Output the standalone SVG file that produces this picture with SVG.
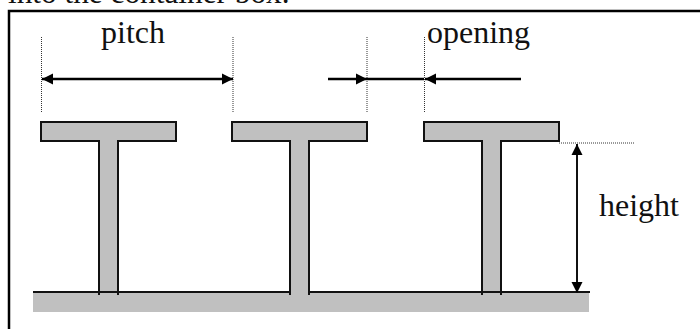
<svg xmlns="http://www.w3.org/2000/svg" width="700" height="329" viewBox="0 0 700 329">
<style>
text{font-family:"Liberation Serif","Times New Roman",serif;font-size:32px;fill:#111}
.t{fill:#c0c0c0;stroke:#111;stroke-width:2}
.d{stroke:#333;stroke-width:1;stroke-dasharray:1 1;fill:none}
.a{stroke:#000;stroke-width:2.5;fill:none}
.w{stroke:#111;stroke-width:2;fill:none}
</style>
<defs>
<marker id="h" markerUnits="userSpaceOnUse" markerWidth="12" markerHeight="12" refX="11" refY="6" orient="auto-start-reverse"><path d="M0 0.5L11 6L0 11.500Z" fill="#000"/></marker>
</defs>
<rect width="700" height="329" fill="#fff"/>
<text x="8" y="3" style="font-size:31.300px">into the container box.</text>
<path id="frame" d="M700 11H9V329" fill="none" stroke="#000" stroke-width="2.500"/>
<g id="base"><rect x="33" y="292" width="556" height="20" fill="#c0c0c0"/></g>
<g id="t1"><path class="t" d="M99 295V141H41V122H176V141H118V295"/></g>
<g id="t2"><path class="t" d="M290 295V141H232V122H367V141H309V295"/></g>
<g id="t3"><path class="t" d="M482 295V141H424V122H559V141H501V295"/></g>
<path class="w" d="M33 292H290M309 292H590"/>
<g id="connectors">
<path class="d" d="M41.500 37V113M233 37V113M367 37V113M424.500 37V113M559 143H634"/>
<path class="a" d="M42 79H233" marker-start="url(#h)" marker-end="url(#h)"/>
<path class="a" d="M328 79H367" marker-end="url(#h)"/>
<path class="a" d="M367 79H424"/>
<path class="a" d="M521 79H425" marker-end="url(#h)"/>
<path class="w" d="M577 144V293" marker-start="url(#h)" marker-end="url(#h)"/>
</g>
<text x="101" y="43">pitch</text>
<text x="427" y="43">opening</text>
<text x="599" y="216">height</text>
</svg>
